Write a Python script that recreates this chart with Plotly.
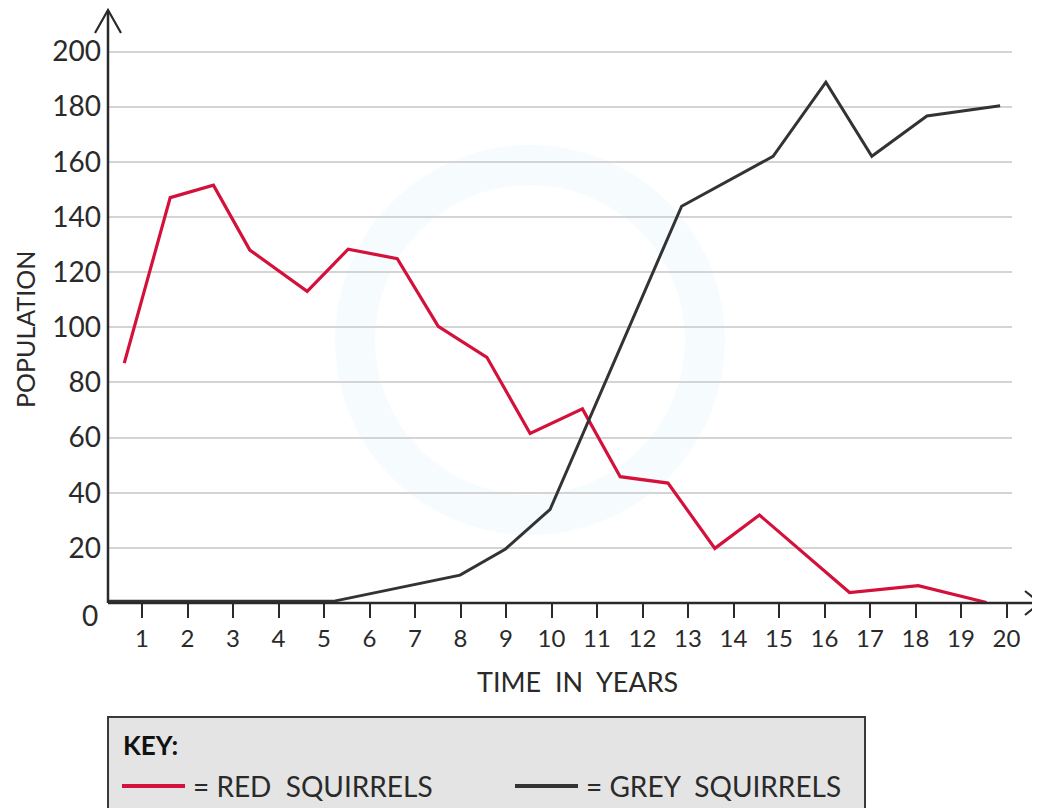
import plotly.graph_objects as go

# ---- data ----
red_years = [0.61, 1.62, 2.57, 3.37, 4.63, 5.53, 6.61, 7.51, 8.58, 9.53, 10.68, 11.51, 12.56, 13.59, 14.57, 16.55, 18.06, 19.56]
red_pop = [87, 147, 151.5, 128, 113, 128.3, 124.9, 100.3, 89.1, 61.5, 70.4, 45.8, 43.5, 19.8, 31.9, 3.8, 6.3, 0.2]

grey_years = [0.25, 5.2, 7.99, 8.99, 9.97, 12.86, 14.87, 16.03, 17.04, 18.25, 19.86]
grey_pop = [0.6, 0.6, 10.1, 19.6, 34.0, 143.9, 162.0, 188.9, 162.0, 176.6, 180.3]

x_ticks = list(range(1, 21))
y_ticks = list(range(20, 201, 20))

RED = "#d4113b"
GREY = "#333333"
INK = "#2a2a2a"
FONT = "Lato"

# page body has an 8px margin: work in reference pixels, shift by OFF
OFF = 8
W, H = 1040 - OFF, 808 - OFF
L, R, T, B = 108 - OFF, 1012 - OFF, 46 - OFF, 603 - OFF


def px(x):  # reference pixel x -> paper
    return (x - OFF - L) / (R - L)


def py(y):  # reference pixel y -> paper
    return (B - (y - OFF)) / (B - T)


fig = go.Figure()
fig.add_trace(go.Scatter(x=red_years, y=red_pop, mode="lines",
                         line=dict(color=RED, width=3.2), name="RED SQUIRRELS"))
fig.add_trace(go.Scatter(x=grey_years, y=grey_pop, mode="lines",
                         line=dict(color=GREY, width=3.0), name="GREY SQUIRRELS"))

shapes = []
# faint watermark ring
shapes.append(dict(type="circle", xref="paper", yref="paper", layer="below",
                   x0=px(530 - 175), x1=px(530 + 175), y0=py(340 + 175), y1=py(340 - 175),
                   line=dict(color="rgba(215,235,250,0.22)", width=40)))
# y axis line with arrow
shapes.append(dict(type="line", xref="paper", yref="paper",
                   x0=0, x1=0, y0=0, y1=py(11), line=dict(color=INK, width=2.5)))
shapes.append(dict(type="path", xref="paper", yref="paper",
                   path=f"M {px(95)},{py(33)} L {px(108)},{py(10)} L {px(121)},{py(33)}",
                   line=dict(color=INK, width=2.2)))
# x axis extension with arrow
shapes.append(dict(type="line", xref="paper", yref="paper",
                   x0=0, x1=px(1039), y0=0, y1=0, line=dict(color=INK, width=2.5)))
shapes.append(dict(type="path", xref="paper", yref="paper",
                   path=f"M {px(1025)},{py(591)} L {px(1040)},{py(603)} L {px(1025)},{py(615)}",
                   line=dict(color=INK, width=2.2)))
# key box
shapes.append(dict(type="rect", xref="paper", yref="paper",
                   x0=px(108), x1=px(865), y0=py(717), y1=py(812),
                   fillcolor="#e4e4e4", line=dict(color="#3a3a3a", width=2)))
# key line samples
shapes.append(dict(type="line", xref="paper", yref="paper",
                   x0=px(122), x1=px(185), y0=py(786), y1=py(786),
                   line=dict(color=RED, width=4)))
shapes.append(dict(type="line", xref="paper", yref="paper",
                   x0=px(515), x1=px(578), y0=py(786), y1=py(786),
                   line=dict(color=GREY, width=4)))

annotations = [
    dict(text="0", xref="paper", yref="paper", x=px(100), y=py(615),
         showarrow=False, xanchor="right", yanchor="middle",
         font=dict(family=FONT, size=28, color=INK)),
    dict(text="TIME  IN  YEARS", xref="paper", yref="paper", x=px(577), y=py(681),
         showarrow=False, xanchor="center", yanchor="middle",
         font=dict(family=FONT, size=27, color=INK)),
    dict(text="POPULATION", xref="paper", yref="paper", x=px(25), y=py(330),
         showarrow=False, xanchor="center", yanchor="middle", textangle=-90,
         borderpad=0,
         font=dict(family=FONT, size=25, color=INK)),
    dict(text="<b>KEY:</b>", xref="paper", yref="paper", x=px(121), y=py(745),
         showarrow=False, xanchor="left", yanchor="middle",
         font=dict(family=FONT, size=26, color="#111111")),
    dict(text="= RED  SQUIRRELS", xref="paper", yref="paper", x=px(191), y=py(786),
         showarrow=False, xanchor="left", yanchor="middle",
         font=dict(family=FONT, size=28, color=INK)),
    dict(text="= GREY  SQUIRRELS", xref="paper", yref="paper", x=px(584), y=py(786),
         showarrow=False, xanchor="left", yanchor="middle",
         font=dict(family=FONT, size=28, color=INK)),
]

fig.update_layout(
    width=W, height=H,
    margin=dict(l=L, r=W - R, t=T, b=H - B, autoexpand=False),
    paper_bgcolor="white", plot_bgcolor="white",
    showlegend=False,
    shapes=shapes,
    annotations=annotations,
    xaxis=dict(range=[(L + OFF - 96.5) / 45.5, (R + OFF - 96.5) / 45.5],
               tickvals=x_ticks, ticktext=[str(v) for v in x_ticks],
               showgrid=False, zeroline=False, showline=False,
               ticks="outside", ticklen=14, tickwidth=2, tickcolor=INK,
               tickfont=dict(family=FONT, size=24, color=INK),
               automargin=False),
    yaxis=dict(range=[0, 202], tickvals=y_ticks, ticktext=[str(v) for v in y_ticks],
               showgrid=True, gridcolor="#d4d4d4", gridwidth=2,
               zeroline=False, showline=False, ticks="",
               ticklabelstandoff=6,
               tickfont=dict(family=FONT, size=28, color=INK),
               automargin=False),
)

fig.write_html("out.html")
